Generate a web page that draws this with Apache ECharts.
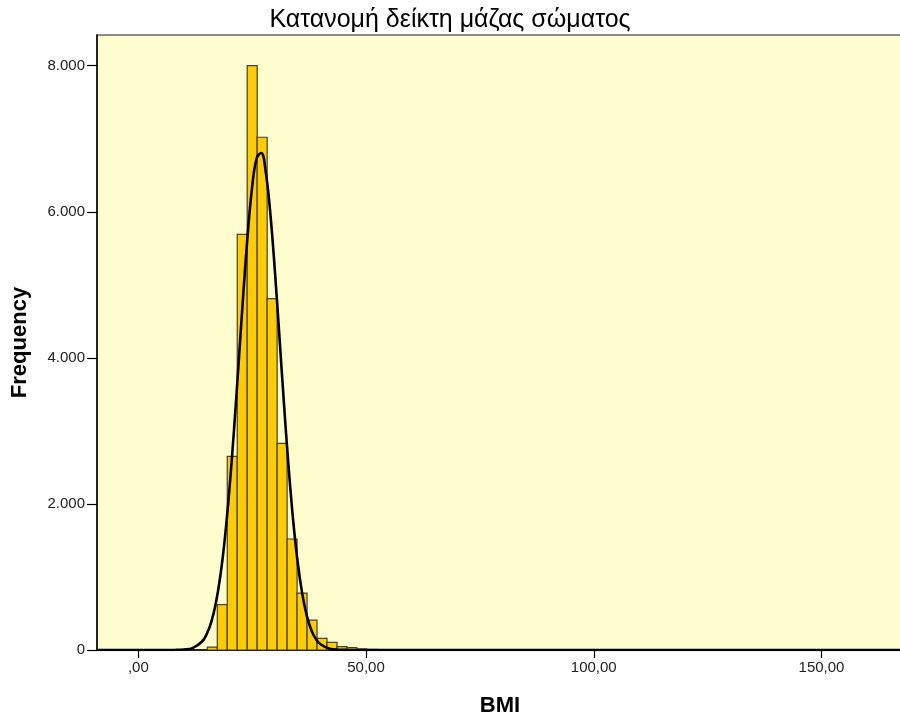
<!DOCTYPE html>
<html>
<head>
<meta charset="utf-8">
<script src="https://cdn.jsdelivr.net/npm/echarts@6/dist/echarts.min.js"></script>
<style>
  html, body { margin: 0; padding: 0; background: #ffffff; }
  #chart { width: 900px; height: 717px; }
</style>
</head>
<body>
<div id="chart"></div>
<script>
// Histogram of BMI with fitted normal curve
const titleText = 'Κατανομή δείκτη μάζας σώματος';
const xName = 'BMI';
const yName = 'Frequency';

// Histogram bins (lower edge of each bin) and their frequencies
const binWidth = 2.19;
const binLower = [15.15, 17.34, 19.53, 21.72, 23.91, 26.10, 28.29, 30.48, 32.67,
                  34.86, 37.05, 39.24, 41.43, 43.62, 45.81, 48.00, 50.19, 52.38];
const binCounts = [40, 620, 2650, 5690, 8000, 7020, 4810, 2830, 1520,
                   780, 410, 160, 105, 45, 32, 15, 8, 5];

// Normal curve points (BMI, frequency)
const curveX = [-9, 0, 5, 8, 10, 12, 14, 15, 16, 17, 18, 19, 20, 21, 22, 23, 24, 25, 26,
                27, 28, 29, 30, 31, 32, 33, 34, 35, 36, 37, 38, 39, 40, 42, 44, 46, 50, 100, 168];
const curveY = [0, 0, 0, 1, 6, 29, 116, 215, 379, 634, 1009, 1526, 2195, 3002, 3904, 4827, 5674, 6340, 6736,
                6805, 6535, 5968, 5180, 4276, 3355, 2503, 1776, 1198, 768, 468, 271, 149, 78, 18, 4, 1, 0, 0, 0];

// Axis ticks
const xTickValues = [0, 50, 100, 150];
const xTickLabels = [',00', '50,00', '100,00', '150,00'];
const yTickValues = [0, 2000, 4000, 6000, 8000];
const yTickLabels = ['0', '2.000', '4.000', '6.000', '8.000'];

const histData = binLower.map((lo, i) => [lo, lo + binWidth, binCounts[i]]);
const curveData = curveX.map((x, i) => [x, curveY[i]]);

const fontFamily = 'Liberation Sans, Arial, sans-serif';
const chart = echarts.init(document.getElementById('chart'), null, { renderer: 'canvas' });

chart.setOption({
  animation: false,
  backgroundColor: '#ffffff',
  title: {
    text: titleText,
    left: 'center',
    top: 3,
    textStyle: { fontFamily: fontFamily, fontSize: 25, fontWeight: 'normal', color: '#000' }
  },
  grid: {
    left: 97, right: -3, top: 35, bottom: 67,
    outerBoundsMode: 'none',
    containLabel: false,
    show: true,
    backgroundColor: '#FEFDCD',
    borderColor: '#8a8a86',
    borderWidth: 2
  },
  xAxis: {
    type: 'value',
    min: -9.07,
    max: 167.9,
    name: xName,
    nameLocation: 'middle',
    nameGap: 45,
    nameTextStyle: { fontFamily: fontFamily, fontSize: 22, fontWeight: 'bold', color: '#000' },
    axisLine: { show: true, onZero: false, lineStyle: { color: '#000', width: 1.5 } },
    axisTick: { show: true, length: 8, customValues: xTickValues, lineStyle: { color: '#000', width: 1.2 } },
    axisLabel: {
      customValues: xTickValues,
      margin: 10,
      fontFamily: fontFamily,
      fontSize: 15,
      color: '#222',
      formatter: v => xTickLabels[xTickValues.indexOf(v)]
    },
    splitLine: { show: false }
  },
  yAxis: {
    type: 'value',
    min: 0,
    max: 8420,
    name: yName,
    nameLocation: 'middle',
    nameGap: 66,
    nameRotate: 90,
    nameTextStyle: { fontFamily: fontFamily, fontSize: 22, fontWeight: 'bold', color: '#000' },
    axisLine: { show: true, onZero: false, lineStyle: { color: '#000', width: 1.5 } },
    axisTick: { show: true, length: 10, customValues: yTickValues, lineStyle: { color: '#000', width: 1.2 } },
    axisLabel: {
      customValues: yTickValues,
      margin: 12,
      fontFamily: fontFamily,
      fontSize: 15,
      color: '#222',
      formatter: v => yTickLabels[yTickValues.indexOf(v)]
    },
    splitLine: { show: false }
  },
  series: [
    {
      type: 'custom',
      data: histData,
      z: 2,
      clip: true,
      renderItem: function (params, api) {
        const p0 = api.coord([api.value(0), 0]);
        const p1 = api.coord([api.value(1), api.value(2)]);
        return {
          type: 'rect',
          shape: { x: p0[0], y: p1[1], width: p1[0] - p0[0], height: p0[1] - p1[1] },
          style: { fill: '#FFCC00', stroke: '#45412a', lineWidth: 1.2 }
        };
      }
    },
    {
      type: 'line',
      data: curveData,
      smooth: 0.4,
      symbol: 'none',
      z: 3,
      clip: true,
      lineStyle: { color: '#000', width: 2.6 }
    }
  ]
});
</script>
</body>
</html>
